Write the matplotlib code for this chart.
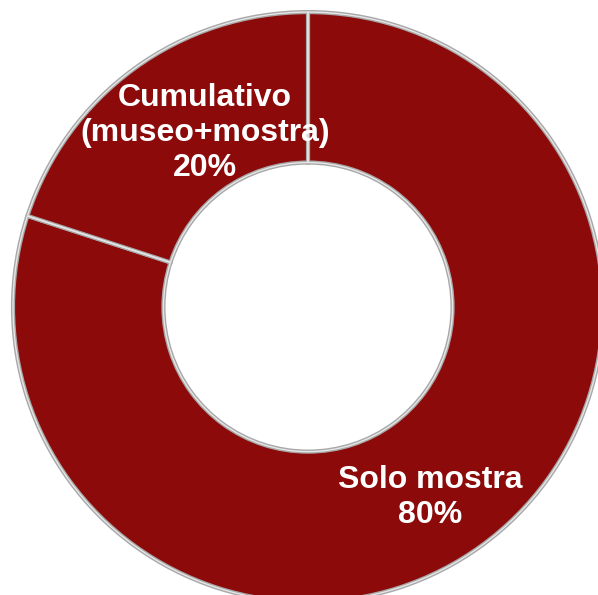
import matplotlib.pyplot as plt

# data
labels = ["Solo mostra", "Cumulativo\n(museo+mostra)"]
values = [80, 20]
colors = ["#8c0a0a", "#8c0a0a"]

fig = plt.figure(figsize=(5.98, 5.95), dpi=100)
ax = fig.add_axes([0, 0, 1, 1])

wedges, _ = ax.pie(values, startangle=90, counterclock=False, colors=colors,
                   radius=1.0,
                   wedgeprops=dict(width=0.51, edgecolor="#a8a8a8", linewidth=3))

# lighter inner line on the edges
ax.pie(values, startangle=90, counterclock=False, colors=["none", "none"],
       radius=1.0,
       wedgeprops=dict(width=0.51, edgecolor="#e6e6e6", linewidth=1))

# label positions (center of text block)
pos = [(0.414, -0.645), (-0.349, 0.59)]
for lab, v, (x, y) in zip(labels, values, pos):
    ax.text(x, y, f"{lab}\n{v}%", ha="center", va="center", color="white",
            fontsize=23, fontweight="bold", family="Liberation Sans",
            linespacing=1.2)

ax.set_xlim(-1.044, 0.983)
ax.set_ylim(-0.976, 1.041)
ax.set_aspect("equal")
ax.axis("off")

fig.savefig("out.png", dpi=100)
